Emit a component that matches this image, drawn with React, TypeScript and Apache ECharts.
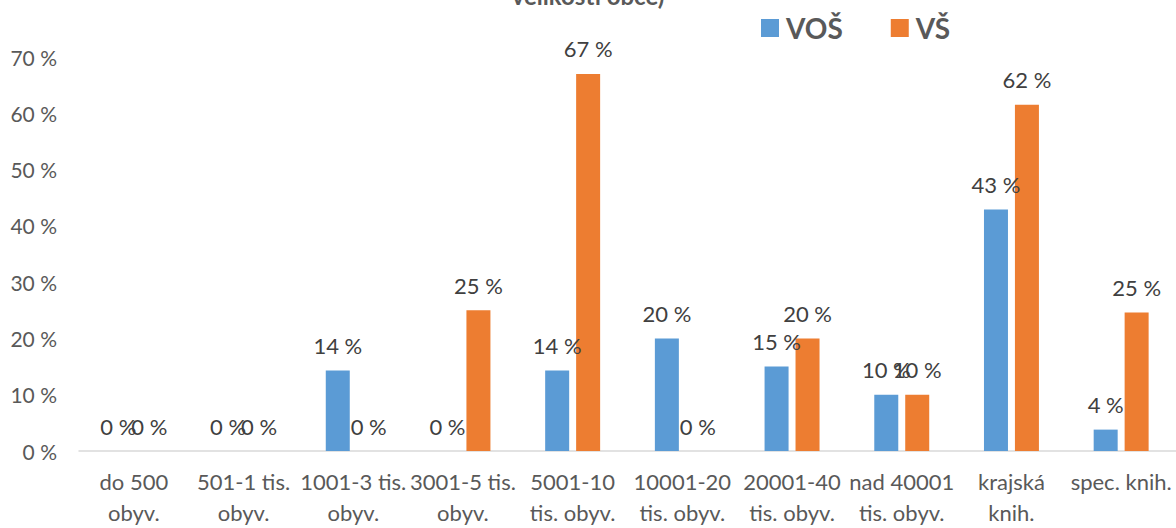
import React, { useEffect, useRef } from "react";
import * as echarts from "echarts";

const categories = [
  "do 500\nobyv.",
  "501-1 tis.\nobyv.",
  "1001-3 tis.\nobyv.",
  "3001-5 tis.\nobyv.",
  "5001-10\ntis. obyv.",
  "10001-20\ntis. obyv.",
  "20001-40\ntis. obyv.",
  "nad 40001\ntis. obyv.",
  "krajská\nknih.",
  "spec. knih.",
];
const vosValues = [0, 0, 14.3, 0, 14.3, 20, 15, 10, 42.9, 3.8];
const vsValues = [0, 0, 0, 25, 67, 0, 20, 10, 61.5, 24.6];
const seriesNames = ["VOŠ", "VŠ"];
const titleText = "velikosti obce)";

const FONT = "Lato, 'Noto Sans', sans-serif";

export default function App() {
  const ref = useRef<HTMLDivElement>(null);
  useEffect(() => {
    if (!ref.current) return;
    const chart = echarts.init(ref.current, undefined, { renderer: "svg" });
    const label = {
      show: true,
      position: "top",
      distance: 14,
      color: "#404040",
      fontSize: 22,
      fontFamily: FONT,
      formatter: (p: any) => Math.round(p.value) + " %",
    };
    chart.setOption({
      animation: false,
      backgroundColor: "#ffffff",
      textStyle: { fontFamily: FONT },
      title: {
        text: titleText,
        left: "center",
        top: -22,
        textStyle: { fontSize: 24, fontWeight: "bold", color: "#595959", fontFamily: FONT },
      },
      legend: {
        data: seriesNames,
        left: 756,
        top: 9,
        itemWidth: 18,
        itemHeight: 18,
        itemGap: 48,
        icon: "rect",
        textStyle: { fontSize: 28, fontWeight: "bold", color: "#595959", fontFamily: FONT, padding: [0, 0, 0, 2] },
      },
      grid: { left: 79, right: -3, top: 57, bottom: 69, containLabel: false },
      xAxis: {
        type: "category",
        data: categories,
        axisTick: { show: false },
        axisLine: { lineStyle: { color: "#D9D9D9", width: 1.5 } },
        axisLabel: {
          interval: 0,
          color: "#595959",
          fontSize: 22,
          lineHeight: 31,
          margin: 15,
          fontFamily: FONT,
        },
      },
      yAxis: {
        type: "value",
        min: 0,
        max: 70,
        interval: 10,
        axisLine: { show: false },
        axisTick: { show: false },
        splitLine: { show: false },
        axisLabel: {
          formatter: "{value} %",
          color: "#595959",
          fontSize: 21,
          margin: 22,
          fontFamily: FONT,
        },
      },
      series: [
        {
          name: seriesNames[0],
          type: "bar",
          data: vosValues,
          barWidth: 24,
          barGap: "29%",
          itemStyle: { color: "#5B9BD5" },
          label,
        },
        {
          name: seriesNames[1],
          type: "bar",
          data: vsValues,
          barWidth: 24,
          barGap: "29%",
          itemStyle: { color: "#ED7D31" },
          label,
        },
      ],
    });
    return () => chart.dispose();
  }, []);
  return (
    <div
      ref={ref}
      style={{ position: "fixed", left: 0, top: 0, width: 1176, height: 528 }}
    />
  );
}
